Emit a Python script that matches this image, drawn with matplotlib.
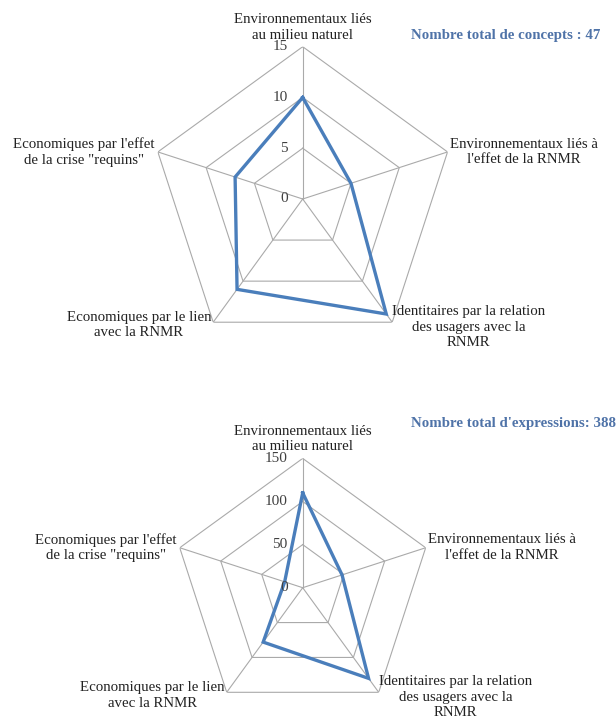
"""Two radar charts: concepts and expressions per category (RNMR)."""
import numpy as np
import matplotlib
matplotlib.use("Agg")
import matplotlib.pyplot as plt

categories = [
    "Environnementaux liés\nau milieu naturel",
    "Environnementaux liés à\nl'effet de la RNMR",
    "Identitaires par la relation\ndes usagers avec la\nRNMR",
    "Economiques par le lien\navec la RNMR",
    "Economiques par l'effet\nde la crise \"requins\"",
]
concepts = [10, 5, 14, 11, 7]
expressions = [110, 48, 130, 78, 22]
concept_ticks = [0, 5, 10, 15]
expression_ticks = [0, 50, 100, 150]
titles = ["Nombre total de concepts : 47", "Nombre total d'expressions: 388"]

LINE = "#4A7EBB"
GRID = "#AAAAAA"
TEXT = "#222222"
plt.rcParams["font.family"] = ["Liberation Serif", "DejaVu Serif"]

# (ha, va, dx, dy) in pixels for each category label
label_pos = [
    ("center", "bottom", 0, 5),
    ("left", "center", 2, 0),
    ("left", "center", 0, -5),
    ("right", "center", -2, -3),
    ("right", "center", -3, 0),
]


def radar(ax, values, ticks):
    n = len(values)
    angles = np.arange(n) * 2 * np.pi / n
    closed = np.append(angles, angles[0])
    ax.set_theta_zero_location("N")
    ax.set_theta_direction(-1)
    ax.set_ylim(0, ticks[-1])
    ax.grid(False)
    ax.spines["polar"].set_visible(False)
    ax.set_xticks([])
    ax.set_yticks([])
    ax.patch.set_alpha(0)

    for t in ticks[1:]:
        ax.plot(closed, [t] * (n + 1), color=GRID, lw=0.8, zorder=1)
    for a in angles:
        ax.plot([a, a], [0, ticks[-1]], color=GRID, lw=0.8, zorder=1)

    ax.plot(closed, np.append(values, values[0]), color=LINE, lw=2.4,
            zorder=3, solid_joinstyle="miter")

    for t in ticks:
        ax.annotate(str(t), xy=(0, t), xytext=(-15, 0),
                    textcoords="offset pixels", ha="right", va="center",
                    fontsize=11, color="#404040", zorder=4)

    for a, lab, (ha, va, dx, dy) in zip(angles, categories, label_pos):
        ax.annotate(lab, xy=(a, ticks[-1]), xytext=(dx, dy),
                    textcoords="offset pixels", ha=ha, va=va,
                    multialignment="center", fontsize=10.7, color=TEXT,
                    linespacing=1.25, annotation_clip=False)


W, H = 616, 723
fig = plt.figure(figsize=(W / 100, H / 100), dpi=100)

# centre (px) and outer radius (px) of each chart
layout = [((302.7, 199.0), 152.3), ((302.7, 587.7), 129.3)]
title_pos = [(411, 36), (411, 424)]

for (c, r), vals, ticks, title, (tx, ty) in zip(
        layout, [concepts, expressions], [concept_ticks, expression_ticks],
        titles, title_pos):
    ax = fig.add_axes([(c[0] - r) / W, (H - c[1] - r) / H, 2 * r / W, 2 * r / H],
                      projection="polar")
    radar(ax, vals, ticks)
    fig.text(tx / W, 1 - ty / H, title, ha="left", va="center",
             fontsize=10.7, fontweight="bold", color="#4F73A8")

fig.savefig("out.png", dpi=100)
